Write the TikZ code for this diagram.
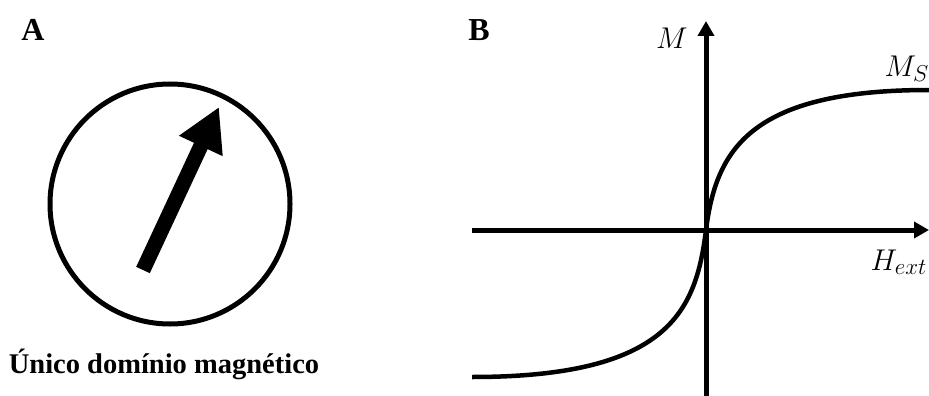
\RequirePackage{fix-cm}
\documentclass[tikz,border=0pt]{standalone}
\usepackage{fontspec}
\setmainfont{Liberation Serif}
\usetikzlibrary{arrows.meta}
\DeclareMathSizes{30}{30}{23}{18}
\tikzset{
  panel/.style={font=\fontsize{32}{36}\selectfont\bfseries, inner sep=0},
  axis/.style={line width=5pt, -{Triangle[width=16pt,length=15pt]}},
  curve/.style={line width=4.5pt},
  lbl/.style={font=\fontsize{30}{34}\selectfont, inner sep=0},
}
\begin{document}
\begin{tikzpicture}[x=1pt,y=-1pt]
\useasboundingbox (0,0) rectangle (929,396);
% Panel A
\node[panel] (A) at (33,30) {A};
\node[circle, draw, line width=5pt, minimum size=240pt, inner sep=0] (dom) at (170,204) {};
\coordinate (tail) at (143,270);
\coordinate (tip) at (219,107);
\draw[line width=15pt, -{Triangle[width=45pt,length=43pt]}] (tail) -- (tip);
\node[font=\fontsize{28.5}{33}\selectfont\bfseries, inner sep=0] (cap) at (164,364) {Único domínio magnético};
% Panel B
\node[panel] (B) at (479,30) {B};
\coordinate (hs) at (472,230);
\coordinate (he) at (929,230);
\coordinate (vs) at (706,396);
\coordinate (ve) at (706,21);
\coordinate (o) at (706,230);
\coordinate (lo) at (472,377);
\coordinate (hi) at (929,90);
\draw[axis] (hs) -- (he);
\draw[axis] (vs) -- (ve);
\draw[curve] (lo) .. controls (670,377) and (696,310) .. (o)
                  .. controls (716,150) and (750,90) .. (hi);
\node[lbl] (M) at (672,38) {$M$};
\node[lbl, anchor=east] (MS) at (929,69) {$M_S$};
\node[lbl, anchor=east] (H) at (927,262) {$H_{ext}$};
\end{tikzpicture}
\end{document}
